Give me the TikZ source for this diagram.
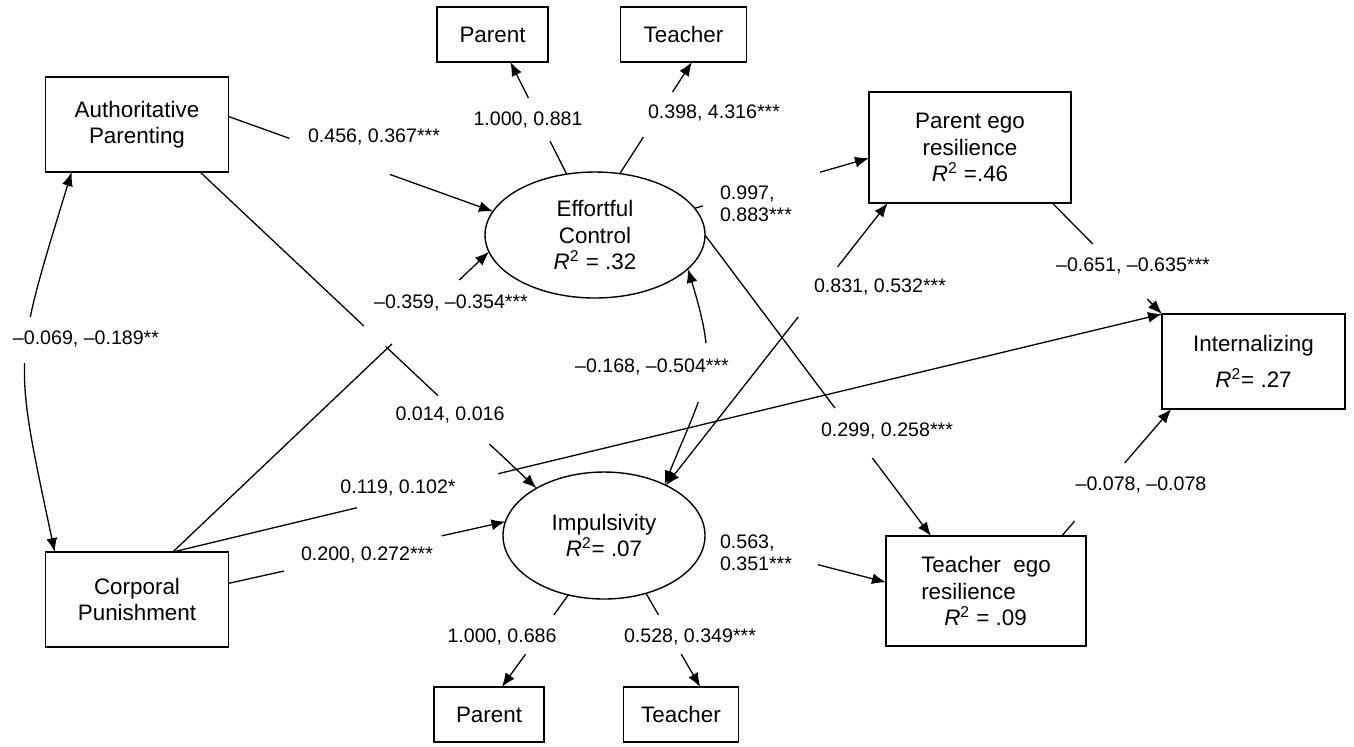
\documentclass[tikz,border=0pt]{standalone}
\usepackage{fontspec}
\setmainfont{Liberation Sans}
\usetikzlibrary{shapes.geometric,arrows.meta,calc}
\newcommand{\boxfont}{\fontsize{11.2}{13.3}\selectfont}
\newcommand{\coeffont}{\fontsize{9.8}{11}\selectfont}
\newcommand{\Rsq}{\textit{R}\textsuperscript{2}}

\begin{document}
\begin{tikzpicture}[x=0.5pt, y=-0.5pt, line width=0.65pt,
  every node/.style={inner sep=0pt, outer sep=0pt},
  var/.style={draw, line width=0.8pt, align=center, font=\boxfont},
  latent/.style={draw, ellipse, line width=0.7pt, align=center, font=\boxfont},
  coef/.style={font=\coeffont, align=left},
  arr/.style={-{Latex[length=7pt,width=5.5pt]}},
  arrboth/.style={{Latex[length=7pt,width=5.5pt]}-{Latex[length=7pt,width=5.5pt]}}]
\fill[white] (0,0) rectangle (1354,746);
\useasboundingbox (0,0) rectangle (1354,746);

% observed variables
\node[var, minimum width=91.5pt, minimum height=47.5pt] (auth) at (137,124.5) {Authoritative\\Parenting};
\node[var, minimum width=91.5pt, minimum height=47.5pt] (cp) at (137,599.5) {Corporal\\Punishment};
\node[var, minimum width=55.5pt, minimum height=27.5pt] (parT) at (492.5,34.5) {Parent};
\node[var, minimum width=63pt, minimum height=27.5pt] (teaT) at (683.5,34.5) {Teacher};
\node[var, minimum width=55pt, minimum height=27.5pt] (parB) at (489,714.5) {Parent};
\node[var, minimum width=57.5pt, minimum height=27.5pt] (teaB) at (681,714.5) {Teacher};
\node[var, minimum width=101pt, minimum height=55.5pt] (per) at (970,147.5) {Parent ego\\resilience\\\Rsq{} =.46};
\node[var, minimum width=91.5pt, minimum height=47.5pt] (intl) at (1253.5,361.5) {Internalizing\\[5pt]\Rsq{}= .27};
\node[var, minimum width=100pt, minimum height=55pt, align=left] (ter) at (986,591) {Teacher\ \ ego\\resilience\\\hspace*{11.5pt}\Rsq{} = .09};

% latent variables
\node[latent, minimum width=110pt, minimum height=63pt] (ec) at (595,235) {Effortful\\Control\\\Rsq{} = .32};
\node[latent, minimum width=101pt, minimum height=63.5pt] (imp) at (604,535.5) {Impulsivity\\\Rsq{}= .07};

% paths, broken where the coefficients sit
\draw (auth.5) -- ($(auth.5)!0.23!(ec.167)$);
\draw[arr] ($(auth.5)!0.61!(ec.167)$) -- (ec.167);

\draw (cp.10) -- ($(cp.10)!0.2!(imp.172)$);
\draw[arr] ($(cp.10)!0.77!(imp.172)$) -- (imp.172);

\draw (cp.53) -- ($(cp.53)!0.693!(ec.189)$);
\draw[arr] ($(cp.53)!0.906!(ec.189)$) -- (ec.189);

\draw (cp.53) -- ($(cp.53)!0.186!(intl.north west)$);
\draw[arr] ($(cp.53)!0.329!(intl.north west)$) -- (intl.north west);

\draw (auth.-37) -- ($(auth.-37)!0.487!(imp.145)$);
\draw ($(auth.-37)!0.552!(imp.145)$) -- ($(auth.-37)!0.707!(imp.145)$);
\draw[arr] ($(auth.-37)!0.86!(imp.145)$) -- (imp.145);

\draw (ec.115) -- ($(ec.115)!0.295!(parT.-57)$);
\draw[arr] ($(ec.115)!0.679!(parT.-57)$) -- (parT.-57);

\draw (ec.68) -- ($(ec.68)!0.328!(teaT.-73)$);
\draw[arr] ($(ec.68)!0.731!(teaT.-73)$) -- (teaT.-73);

\draw (ec.15) -- ($(ec.15)!0.048!(per.186)$);
\draw[arr] ($(ec.15)!0.719!(per.186)$) -- (per.186);

\draw (per.-34) -- ($(per.-34)!0.369!(intl.north west)$);
\draw[arr] ($(per.-34)!0.865!(intl.north west)$) -- (intl.north west);

\draw[arr] ($(imp.39)!0.597!(per.214)$) -- (imp.39);
\draw[arr] ($(imp.39)!0.774!(per.214)$) -- (per.214);

\draw (ec.east) -- ($(ec.east)!0.575!(ter.135)$);
\draw[arr] ($(ec.east)!0.741!(ter.135)$) -- (ter.135);

\draw[arr] ($(imp.east)!0.624!(ter.175)$) -- (ter.175);

\draw (ter.36) -- ($(ter.36)!0.118!(intl.210)$);
\draw[arr] ($(ter.36)!0.575!(intl.210)$) -- (intl.210);

\draw (imp.-121) -- ($(imp.-121)!0.218!(parB.65)$);
\draw[arr] ($(imp.-121)!0.642!(parB.65)$) -- (parB.65);

\draw (imp.-54) -- ($(imp.-54)!0.232!(teaB.55)$);
\draw[arr] ($(imp.-54)!0.648!(teaB.55)$) -- (teaB.55);

% covariances
\begin{scope}[even odd rule]
\clip (0,0) rectangle (1354,746) (0,317) rectangle (60,363);
\draw[arrboth] (auth.216) to[out=253, in=102, looseness=1.35] (cp.150);
\end{scope}
\begin{scope}[even odd rule]
\clip (0,0) rectangle (1354,746) (688,343) rectangle (730,402);
\draw[arrboth] (ec.-20) to[out=-73, in=68, looseness=1.3] (imp.40);
\end{scope}

% coefficients
\node[coef] (c456) at (374,137) {0.456, 0.367***};
\node[coef] (c1000a) at (528,120) {1.000, 0.881};
\node[coef] (c398) at (714,113) {0.398, 4.316***};
\node[coef, anchor=west] (c997) at (720,204) {0.997,\\0.883***};
\node[coef] (c831) at (880,287) {0.831, 0.532***};
\node[coef] (c651) at (1133,266) {–0.651, –0.635***};
\node[coef] (c069) at (86,339) {–0.069, –0.189**};
\node[coef] (c359) at (451,303) {–0.359, –0.354***};
\node[coef] (c168) at (652,367) {–0.168, –0.504***};
\node[coef] (c014) at (450,415) {0.014, 0.016};
\node[coef] (c299) at (887,431) {0.299, 0.258***};
\node[coef] (c078) at (1141,485) {–0.078, –0.078};
\node[coef] (c119) at (398,488) {0.119, 0.102*};
\node[coef] (c200) at (367,555) {0.200, 0.272***};
\node[coef, anchor=west] (c563) at (720,552.5) {0.563,\\0.351***};
\node[coef] (c1000b) at (502,637) {1.000, 0.686};
\node[coef] (c528) at (690,637) {0.528, 0.349***};
\end{tikzpicture}
\end{document}
